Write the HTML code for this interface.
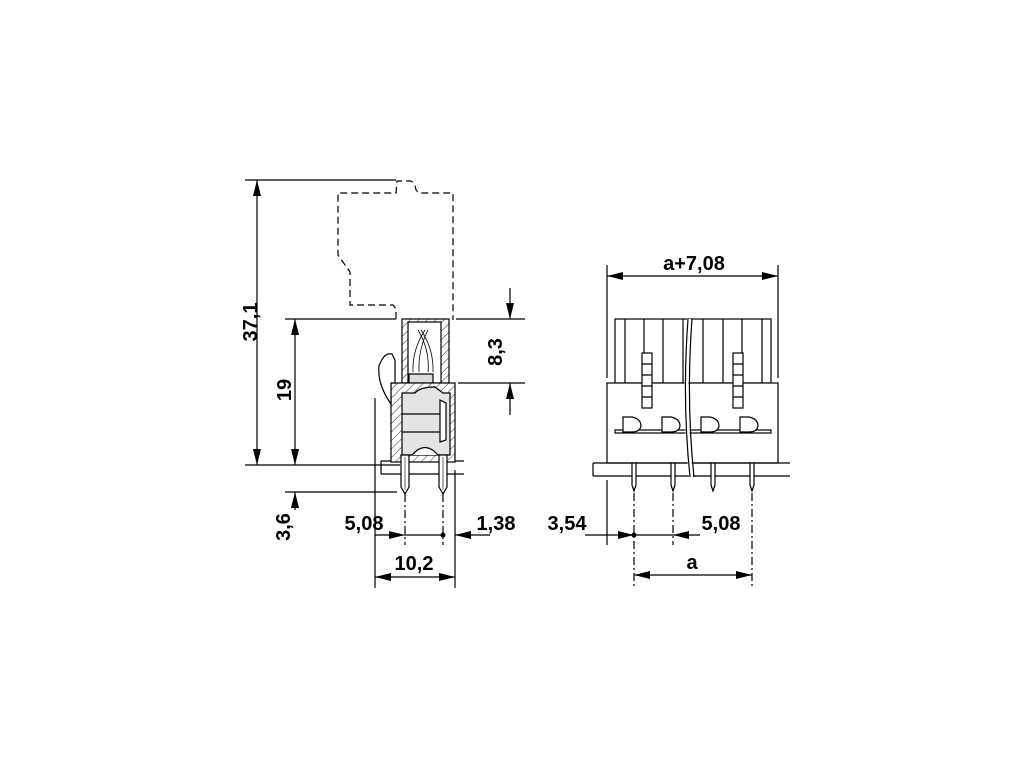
<!DOCTYPE html>
<html><head><meta charset="utf-8"><style>
html,body{margin:0;padding:0;background:#fff;}
svg{display:block;}
text{font-family:"Liberation Sans",Arial,sans-serif;font-weight:bold;font-size:20px;fill:#000;}
</style></head><body>
<svg width="1020" height="765" viewBox="0 0 1020 765" xmlns="http://www.w3.org/2000/svg">
<defs>
<pattern id="h" patternUnits="userSpaceOnUse" width="6" height="6" patternTransform="rotate(45)">
<rect width="6" height="6" fill="#fff"/><line x1="0" y1="0" x2="0" y2="6" stroke="#000" stroke-width="0.8"/>
</pattern>
<marker id="a" viewBox="0 0 16 8" refX="16" refY="4" markerWidth="16" markerHeight="8" markerUnits="userSpaceOnUse" orient="auto-start-reverse">
<path d="M0,0 L16,4 L0,8 z" fill="#000"/></marker>
</defs>
<g stroke="#000" stroke-width="1.2" fill="none">
<line x1="245" y1="180" x2="396" y2="180"/>
<line x1="245" y1="465" x2="400" y2="465"/>
<line x1="285" y1="319" x2="396" y2="319"/>
<line x1="285" y1="492" x2="397" y2="492"/>
<line x1="456" y1="319" x2="525" y2="319"/>
<line x1="458" y1="383" x2="525" y2="383"/>
<line x1="257" y1="180" x2="257" y2="465" marker-start="url(#a)" marker-end="url(#a)"/>
<line x1="295" y1="319" x2="295" y2="465" marker-start="url(#a)" marker-end="url(#a)"/>
<line x1="295" y1="510" x2="295" y2="492" marker-end="url(#a)"/>
<line x1="510" y1="288" x2="510" y2="319" marker-end="url(#a)"/>
<line x1="510" y1="415" x2="510" y2="383" marker-end="url(#a)"/>
<line x1="375" y1="398" x2="375" y2="588"/>
<line x1="455" y1="470" x2="455" y2="588"/>
<line x1="405" y1="494" x2="405" y2="545" stroke-dasharray="8,3,2,3"/>
<line x1="443" y1="494" x2="443" y2="545" stroke-dasharray="8,3,2,3"/>
<line x1="375" y1="535" x2="405" y2="535" marker-end="url(#a)"/>
<line x1="405" y1="535" x2="443" y2="535"/>
<line x1="490" y1="535" x2="455" y2="535" marker-end="url(#a)"/>
<line x1="375" y1="577" x2="455" y2="577" marker-start="url(#a)" marker-end="url(#a)"/>
<path d="M396,319 L396,309 L393,305 L350,305 L350,272 L338,255 L338,193 L396,193 L397,181 L411,181 Q415,183 416,190 L419,193 L453,193 L453,320" stroke-dasharray="7,4"/>
<path d="M381,461 L464,461 M381,474 L464,474 M381,461 L381,474"/>
<rect x="402" y="319" width="47" height="64" fill="url(#h)"/>
<rect x="408" y="322" width="33" height="61" fill="#fff"/>
<rect x="409" y="374" width="24" height="9" fill="#ddd"/>
<path d="M413,372 Q412,350 425,330 M419,372 Q418,350 428,330 M433,372 Q434,350 421,330 M428,372 Q430,350 418,330" stroke-width="0.8"/>
<rect x="391" y="383" width="64" height="79" fill="url(#h)"/>
<path d="M402,393 L415,393 Q420,387 435,387 L443,393 L450,393 L450,455 L402,455 z" fill="#e4e4e4"/>
<line x1="402" y1="414" x2="440" y2="414"/><line x1="402" y1="432" x2="440" y2="432"/>
<path d="M440,400 L446,403 L446,440 L440,442 z" fill="#fff"/>
<path d="M412,455 Q425,440 438,455" fill="#fff"/>
<path d="M395,360 L392,354 Q384,352 379,366 Q377,384 391,404 L391,383 L395,383 z" fill="#fff"/>
<path d="M401,455 L401,487 L405,494 L409,487 L409,455 z" fill="#fff"/>
<path d="M439,455 L439,487 L443,494 L447,487 L447,455 z" fill="#fff"/>
<line x1="405" y1="457" x2="405" y2="490" stroke-width="0.6"/>
<line x1="443" y1="457" x2="443" y2="490" stroke-width="0.6"/>

<line x1="607" y1="265" x2="607" y2="378"/>
<line x1="778" y1="265" x2="778" y2="378"/>
<line x1="607" y1="276" x2="778" y2="276" marker-start="url(#a)" marker-end="url(#a)"/>
<rect x="615" y="319" width="156" height="64" fill="#fff"/>
<path d="M625,319V383 M644,319V383 M663,319V383 M683,319V383 M703,319V383 M723,319V383 M742,319V383 M762,319V383"/>
<rect x="607" y="383" width="171" height="80" fill="#fff"/>
<path d="M593,463 L790,463 M593,476 L790,476 M593,463 L593,476"/>
<rect x="642" y="353" width="10" height="55" fill="#fff"/>
<path d="M642,364H652 M642,375H652 M642,386H652 M642,397H652"/>
<rect x="733" y="353" width="10" height="55" fill="#fff"/>
<path d="M733,364H743 M733,375H743 M733,386H743 M733,397H743"/>
<rect x="615" y="430" width="156" height="3" fill="#fff"/>
<g fill="#fff">
<path d="M623,432 L623,417 L632,417 Q641,419 641,426 Q640,432 632,432 z"/>
<path d="M662,432 L662,417 L671,417 Q680,419 680,426 Q679,432 671,432 z"/>
<path d="M701,432 L701,417 L710,417 Q719,419 719,426 Q718,432 710,432 z"/>
<path d="M740,432 L740,417 L749,417 Q758,419 758,426 Q757,432 749,432 z"/>
</g>
<g fill="#fff">
<path d="M632,463 L632,485 L634,491 L636,485 L636,463 z"/>
<path d="M671,463 L671,485 L673,491 L675,485 L675,463 z"/>
<path d="M711,463 L711,485 L713,491 L715,485 L715,463 z"/>
<path d="M750,463 L750,485 L752,491 L754,485 L754,463 z"/>
</g>
<path d="M689,319 Q683,400 691,477" stroke="#fff" stroke-width="4"/>
<path d="M688,319 Q682,400 690,477 M692,319 Q686,400 694,477"/>
<line x1="607" y1="480" x2="607" y2="545"/>
<line x1="634" y1="493" x2="634" y2="588" stroke-dasharray="8,3,2,3"/>
<line x1="673" y1="493" x2="673" y2="545" stroke-dasharray="8,3,2,3"/>
<line x1="752" y1="493" x2="752" y2="588" stroke-dasharray="8,3,2,3"/>
<line x1="585" y1="535" x2="607" y2="535"/>
<line x1="607" y1="535" x2="634" y2="535" marker-end="url(#a)"/>
<line x1="634" y1="535" x2="673" y2="535"/>
<line x1="700" y1="535" x2="673" y2="535" marker-end="url(#a)"/>
<line x1="634" y1="575" x2="752" y2="575" marker-start="url(#a)" marker-end="url(#a)"/>
</g>
<circle cx="443" cy="535" r="2.5" fill="#000"/>
<circle cx="634" cy="535" r="2.5" fill="#000"/>
<text x="250" y="322" text-anchor="middle" transform="rotate(-90 250 322)" dy="7">37,1</text>
<text x="284" y="390" text-anchor="middle" transform="rotate(-90 284 390)" dy="7">19</text>
<text x="283" y="527" text-anchor="middle" transform="rotate(-90 283 527)" dy="7">3,6</text>
<text x="495" y="352" text-anchor="middle" transform="rotate(-90 495 352)" dy="7">8,3</text>
<text x="364" y="530" text-anchor="middle">5,08</text>
<text x="496" y="530" text-anchor="middle">1,38</text>
<text x="414" y="570" text-anchor="middle">10,2</text>
<text x="694" y="270" text-anchor="middle">a+7,08</text>
<text x="567" y="530" text-anchor="middle">3,54</text>
<text x="721" y="530" text-anchor="middle">5,08</text>
<text x="692" y="569" text-anchor="middle">a</text>
</svg>
</body></html>
